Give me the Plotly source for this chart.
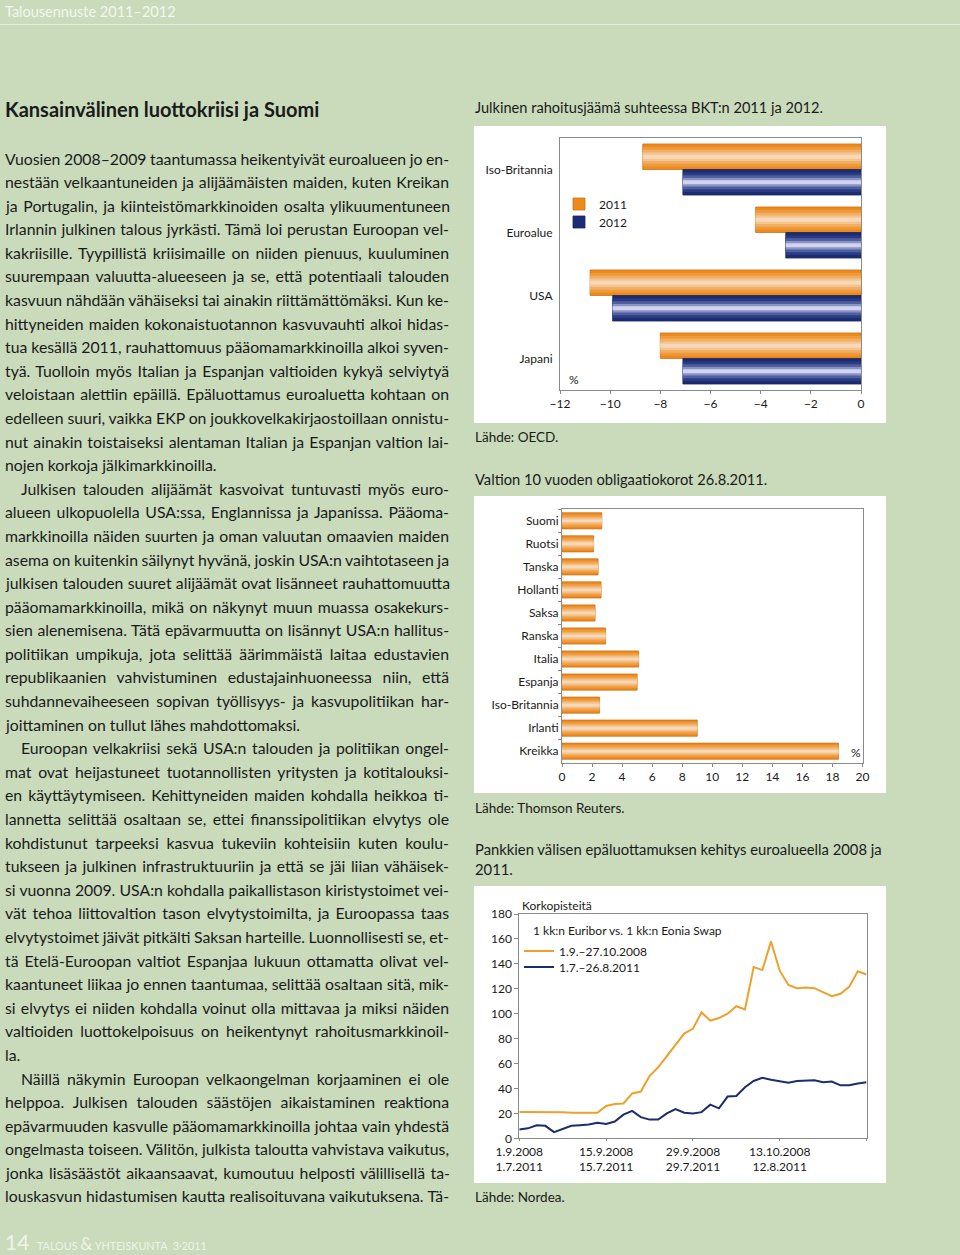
import json
import plotly.graph_objects as go

W, H = 960, 1255
BG = "#c9dbbb"
TXT = "#1a1a1a"
FONT = "Lato"
AXC = "#8a8a8a"

# ---------------- data ----------------
deficit_countries = ["Iso-Britannia", "Euroalue", "USA", "Japani"]
deficit_2011 = [-8.7, -4.2, -10.8, -8.0]
deficit_2012 = [-7.1, -3.0, -9.9, -7.1]
deficit_ticks = [-12, -10, -8, -6, -4, -2, 0]

bond_countries = ["Suomi", "Ruotsi", "Tanska", "Hollanti", "Saksa", "Ranska",
                  "Italia", "Espanja", "Iso-Britannia", "Irlanti", "Kreikka"]
bond_yields = [2.65, 2.1, 2.4, 2.6, 2.2, 2.9, 5.1, 5.0, 2.5, 9.0, 18.4]
bond_ticks = [0, 2, 4, 6, 8, 10, 12, 14, 16, 18, 20]

spread_2008 = [21.2, 21.2, 21.2, 21.2, 21.2, 21.0, 20.5, 20.5, 20.5, 20.5,
               26.0, 27.5, 28.0, 36.0, 37.5, 50.0, 57.0, 66.0, 75.0, 84.0,
               88.0, 101.0, 94.5, 96.5, 100.0, 106.0, 103.5, 137.5, 135.0, 158.0,
               134.5, 123.0, 120.5, 121.0, 120.5, 117.0, 114.0, 116.0, 121.5, 134.0,
               131.5]
spread_2011 = [7.0, 8.0, 10.5, 10.0, 5.0, 7.5, 10.0, 10.5, 11.0, 12.5,
               11.5, 13.5, 19.0, 22.0, 17.0, 15.0, 15.0, 20.0, 23.5, 20.5,
               20.0, 21.0, 27.0, 24.0, 33.5, 34.0, 41.0, 46.0, 48.5, 47.0,
               45.5, 44.5, 46.0, 46.0, 46.5, 45.0, 45.5, 42.5, 42.5, 44.0,
               45.0]
spread_day = list(range(len(spread_2008)))
spread_tickvals = [0, 10, 20, 30, 40]
spread_ticks_2008 = ["1.9.2008", "15.9.2008", "29.9.2008", "13.10.2008", ""]
spread_ticks_2011 = ["1.7.2011", "15.7.2011", "29.7.2011", "12.8.2011", ""]
spread_yticks = [0, 20, 40, 60, 80, 100, 120, 140, 160, 180]
series_names = ["1.9.–27.10.2008", "1.7.–26.8.2011"]

body_lines = [
    "Vuosien 2008–2009 taantumassa heikentyivät euroalueen jo en-",
    "nestään velkaantuneiden ja alijäämäisten maiden, kuten Kreikan",
    "ja Portugalin, ja kiinteistömarkkinoiden osalta ylikuumentuneen",
    "Irlannin julkinen talous jyrkästi. Tämä loi perustan Euroopan vel-",
    "kakriisille. Tyypillistä kriisimaille on niiden pienuus, kuuluminen",
    "suurempaan valuutta-alueeseen ja se, että potentiaali talouden",
    "kasvuun nähdään vähäiseksi tai ainakin riittämättömäksi. Kun ke-",
    "hittyneiden maiden kokonaistuotannon kasvuvauhti alkoi hidas-",
    "tua kesällä 2011, rauhattomuus pääomamarkkinoilla alkoi syven-",
    "tyä. Tuolloin myös Italian ja Espanjan valtioiden kykyä selviytyä",
    "veloistaan alettiin epäillä. Epäluottamus euroaluetta kohtaan on",
    "edelleen suuri, vaikka EKP on joukkovelkakirjaostoillaan onnistu-",
    "nut ainakin toistaiseksi alentaman Italian ja Espanjan valtion lai-",
    "nojen korkoja jälkimarkkinoilla.",
    "Julkisen talouden alijäämät kasvoivat tuntuvasti myös euro-",
    "alueen ulkopuolella USA:ssa, Englannissa ja Japanissa. Pääoma-",
    "markkinoilla näiden suurten ja oman valuutan omaavien maiden",
    "asema on kuitenkin säilynyt hyvänä, joskin USA:n vaihtotaseen ja",
    "julkisen talouden suuret alijäämät ovat lisänneet rauhattomuutta",
    "pääomamarkkinoilla, mikä on näkynyt muun muassa osakekurs-",
    "sien alenemisena. Tätä epävarmuutta on lisännyt USA:n hallitus-",
    "politiikan umpikuja, jota selittää äärimmäistä laitaa edustavien",
    "republikaanien vahvistuminen edustajainhuoneessa niin, että",
    "suhdannevaiheeseen sopivan työllisyys- ja kasvupolitiikan har-",
    "joittaminen on tullut lähes mahdottomaksi.",
    "Euroopan velkakriisi sekä USA:n talouden ja politiikan ongel-",
    "mat ovat heijastuneet tuotannollisten yritysten ja kotitalouksi-",
    "en käyttäytymiseen. Kehittyneiden maiden kohdalla heikkoa ti-",
    "lannetta selittää osaltaan se, ettei finanssipolitiikan elvytys ole",
    "kohdistunut tarpeeksi kasvua tukeviin kohteisiin kuten koulu-",
    "tukseen ja julkinen infrastruktuuriin ja että se jäi liian vähäisek-",
    "si vuonna 2009. USA:n kohdalla paikallistason kiristystoimet vei-",
    "vät tehoa liittovaltion tason elvytystoimilta, ja Euroopassa taas",
    "elvytystoimet jäivät pitkälti Saksan harteille. Luonnollisesti se, et-",
    "tä Etelä-Euroopan valtiot Espanjaa lukuun ottamatta olivat vel-",
    "kaantuneet liikaa jo ennen taantumaa, selittää osaltaan sitä, mik-",
    "si elvytys ei niiden kohdalla voinut olla mittavaa ja miksi näiden",
    "valtioiden luottokelpoisuus on heikentynyt rahoitusmarkkinoil-",
    "la.",
    "Näillä näkymin Euroopan velkaongelman korjaaminen ei ole",
    "helppoa. Julkisen talouden säästöjen aikaistaminen reaktiona",
    "epävarmuuden kasvulle pääomamarkkinoilla johtaa vain yhdestä",
    "ongelmasta toiseen. Välitön, julkista taloutta vahvistava vaikutus,",
    "jonka lisäsäästöt aikaansaavat, kumoutuu helposti välillisellä ta-",
    "louskasvun hidastumisen kautta realisoituvana vaikutuksena. Tä-",
]
indented = {14, 25, 39}
paragraph_ends = {13, 24, 38}


def fx(x):
    return x / W


def fy(y):
    return 1 - y / H


fig = go.Figure()

# gradient bar helper (stacked layers emulate the cylindrical shading)
ORANGE = ["#ee8a1c", "#f0993a", "#f2ae62", "#f4c48f", "#f6d9bd"]
NAVY = ["#1b2c72", "#2a3b85", "#505fa2", "#8a93c4", "#d0d4ec"]
FRACS = [1.0, 0.76, 0.54, 0.34, 0.16]


def gradient_bars(values, cats, center, width, palette, outline, xa, ya, name, legend, showlegend):
    for k, (f, col) in enumerate(zip(FRACS, palette)):
        w = width * f
        fig.add_trace(go.Bar(
            x=values, y=cats, orientation="h", width=w, offset=center - w / 2,
            marker=dict(color=col, line=dict(width=0.8 if k == 0 else 0, color=outline)),
            xaxis=xa, yaxis=ya, name=name, legend=legend,
            showlegend=(showlegend and k == 0), hoverinfo="skip"))


# chart 1
gradient_bars(deficit_2011, deficit_countries, -0.2025, 0.405, ORANGE, "#c8741a", "x", "y", "2011", "legend", True)
gradient_bars(deficit_2012, deficit_countries, 0.2025, 0.405, NAVY, "#17265f", "x", "y", "2012", "legend2", True)
# chart 2
gradient_bars(bond_yields, bond_countries, 0.0, 0.70, ORANGE, "#c8741a", "x2", "y2", "korko", "legend", False)
# chart 3 (2008 on the 2008 date axis, 2011 on the overlaid 2011 date axis)
fig.add_trace(go.Scatter(x=spread_day, y=spread_2008, mode="lines", name=series_names[0],
                         line=dict(color="#efa02c", width=2), xaxis="x3", yaxis="y3",
                         legend="legend3", hoverinfo="skip"))
fig.add_trace(go.Scatter(x=spread_day, y=spread_2011, mode="lines", name=series_names[1],
                         line=dict(color="#1b2d6b", width=2), xaxis="x4", yaxis="y3",
                         legend="legend4", hoverinfo="skip"))

tickfont = dict(family=FONT, size=12, color=TXT)
axis_common = dict(showline=True, linecolor=AXC, linewidth=1, mirror=True,
                   showgrid=False, zeroline=False, tickfont=tickfont,
                   tickcolor=AXC, fixedrange=True)

# white panels
shapes = []
for (x0, y0, x1, y1) in [(474, 126, 886, 423), (474, 496, 886, 793), (474, 886, 886, 1183)]:
    shapes.append(dict(type="rect", xref="paper", yref="paper", x0=fx(x0), x1=fx(x1),
                       y0=fy(y1), y1=fy(y0), fillcolor="white", line=dict(width=0), layer="below"))
# header rule
shapes.append(dict(type="line", xref="paper", yref="paper", x0=0, x1=1, y0=fy(24.5), y1=fy(24.5),
                   line=dict(color="#e6eedf", width=1)))

ann = []


def text(x, y, s, size=14, color=TXT, anchor="left", family=FONT, **kw):
    ann.append(dict(xref="paper", yref="paper", x=fx(x), y=fy(y), text=s, showarrow=False,
                    xanchor=anchor, yanchor="middle", align="left",
                    font=dict(family=family, size=size, color=color), **kw))
    return len(ann) - 1


# header & title
text(3, 11, "Talousennuste 2011–2012", size=14.5, color="#f3f7ef")
text(3, 109, "<b>Kansainvälinen luottokriisi ja Suomi</b>", size=20)
# body (justified lines get their word spacing set after rendering)
justify = []
RIGHT_EDGE = 449
for i, line in enumerate(body_lines):
    x0 = 3 + (16 if i in indented else 0)
    idx = text(x0, 158 + i * 23.59, line, size=15.8)
    if i not in paragraph_ends:
        justify.append([idx, RIGHT_EDGE - (x0 + 2)])
# footer
text(3, 1241, "14", size=21, color="#eef3ea")
text(35, 1243, "TALOUS <span style='font-size:17px'>&amp;</span> YHTEISKUNTA  3·2011",
     size=10.8, color="#eef3ea")

# chart texts
text(473, 108, "Julkinen rahoitusjäämä suhteessa BKT:n 2011 ja 2012.", size=14.6)
text(473, 437, "Lähde: OECD.", size=13.5)
text(567, 379, "%", size=12)
text(473, 479, "Valtion 10 vuoden obligaatiokorot 26.8.2011.", size=14.7)
text(473, 808, "Lähde: Thomson Reuters.", size=13.5)
text(849, 752, "%", size=12)
text(473, 849, "Pankkien välisen epäluottamuksen kehitys euroalueella 2008 ja", size=14.8)
text(473, 869, "2011.", size=14.8)
text(473, 1197, "Lähde: Nordea.", size=13.5)
text(520, 905, "Korkopisteitä", size=12)
text(531, 930, "1 kk:n Euribor vs. 1 kk:n Eonia Swap", size=12)


def legend_at(x, y):
    return dict(x=fx(x), y=fy(y), xanchor="left", yanchor="middle", bgcolor="rgba(0,0,0,0)",
                borderwidth=0, font=dict(family=FONT, size=12, color=TXT),
                itemwidth=30, tracegroupgap=0)


fig.update_layout(
    width=W, height=H, margin=dict(l=0, r=0, t=0, b=0, pad=0, autoexpand=False),
    paper_bgcolor=BG, plot_bgcolor="rgba(0,0,0,0)",
    barmode="overlay", showlegend=True,
    shapes=shapes, annotations=ann,
    legend=legend_at(559, 204), legend2=legend_at(559, 222),
    legend3=legend_at(519, 951), legend4=legend_at(519, 967),
    xaxis=dict(domain=[fx(560), fx(861)], range=[-12, 0], tickvals=deficit_ticks,
               ticks="outside", ticklen=3, anchor="y", **axis_common),
    yaxis=dict(domain=[fy(390), fy(138)], type="category", categoryorder="array",
               categoryarray=deficit_countries, range=[3.5, -0.5], ticks="",
               ticklabelstandoff=4, anchor="x", **axis_common),
    xaxis2=dict(domain=[fx(562), fx(862.5)], range=[0, 20], tickvals=bond_ticks,
                ticks="outside", ticklen=3, anchor="y2", **axis_common),
    yaxis2=dict(domain=[fy(762.7), fy(509.3)], type="category", categoryorder="array",
                categoryarray=bond_countries, range=[10.5, -0.5], ticks="outside",
                tickson="boundaries", ticklen=3, anchor="x2", **axis_common),
    xaxis3=dict(domain=[fx(519.3), fx(866.5)], range=[0, 40], tickvals=spread_tickvals,
                ticktext=spread_ticks_2008, ticks="outside", ticklen=2, anchor="y3",
                **axis_common),
    xaxis4=dict(domain=[fx(519.3), fx(866.5)], range=[0, 40], tickvals=spread_tickvals,
                ticktext=spread_ticks_2011, ticks="", overlaying="x3", anchor="y3", side="bottom",
                ticklabelstandoff=20, showline=False, showgrid=False, zeroline=False,
                tickfont=tickfont, fixedrange=True),
    yaxis3=dict(domain=[fy(1138.3), fy(914)], range=[0, 180], tickvals=spread_yticks,
                ticks="outside", ticklen=4, anchor="x3", **axis_common),
)

post = (
    "document.body.style.margin='0';document.body.style.padding='0';"
    "document.body.style.overflow='hidden';"
    "var J=" + json.dumps(justify) + ";"
    "J.forEach(function(p){"
    "var g=document.querySelector('g.annotation[data-index=\"'+p[0]+'\"]');"
    "if(!g)return;var t=g.querySelector('text.annotation-text')||g.querySelector('text');"
    "if(!t)return;var n=(t.textContent.match(/ /g)||[]).length;if(!n)return;"
    "var w=t.getComputedTextLength();var s=(p[1]-w)/n;"
    "if(s>-3&&s<12){t.style.wordSpacing=s+'px';}"
    "});"
)

fig.write_html("out.html", config={"displayModeBar": False}, post_script=post)
